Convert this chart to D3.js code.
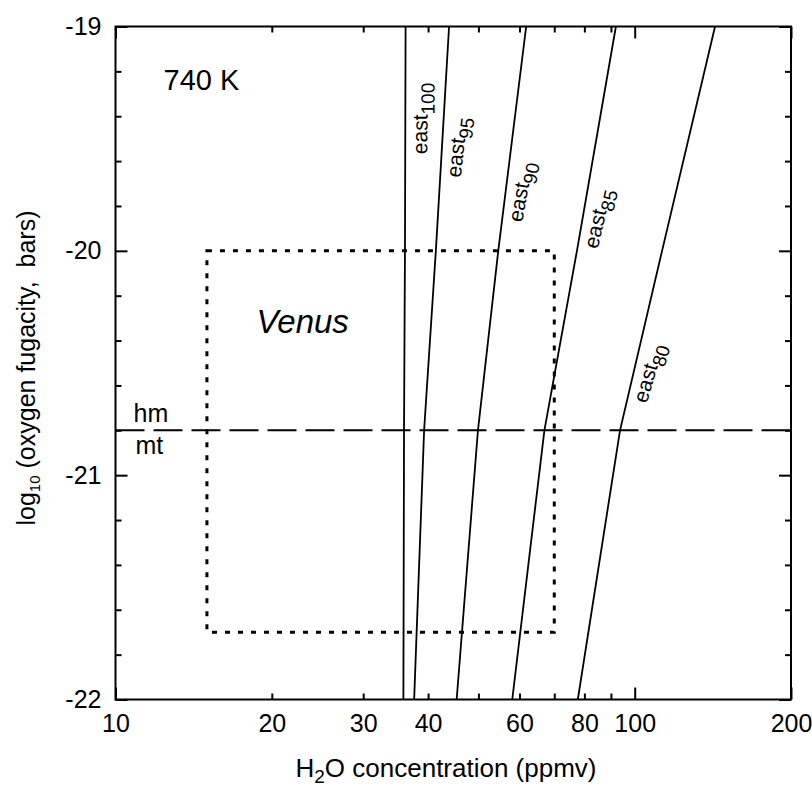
<!DOCTYPE html>
<meta charset="utf-8">
<script src="https://d3js.org/d3.v7.min.js"></script>
<style>
  body { margin: 0; background: #fff; }
  svg text { font-family: "Liberation Sans", Arial, sans-serif; fill: #000; }
</style>
<body>
<div id="chart"></div>
<script>

  // ----- data
  var fO2 = [-19, -20, -20.8, -22]          // log10 fO2 (bars) where each curve was read
  var east100 = [36.2, 36.1, 35.95, 35.85]  // H2O ppmv
  var east95 = [43.9, 41.4, 39.3, 37.6]
  var east90 = [61.8, 54.6, 49.9, 45.4]
  var east85 = [92.0, 77.4, 67.0, 58.1]
  var east80 = [142.8, 112.9, 93.7, 77.7]
  var curveNames = ["100", "95", "90", "85", "80"]
  var labelFO2 = [-19.41, -19.54, -19.74, -19.86, -20.55]

  var venusH2O = [15, 70]
  var venusFO2 = [-21.7, -20]
  var hmMt = -20.8

  var xLabels = [10, 20, 30, 40, 60, 80, 100, 200]
  var xMajor = [10, 100, 200]
  var xMinor = [20, 30, 40, 50, 60, 70, 80, 90]
  var yLabels = [-19, -20, -21, -22]
  var yMinor = [-19.2, -19.4, -19.6, -19.8, -20.2, -20.4, -20.6, -20.8,
                -21.2, -21.4, -21.6, -21.8]

  var margin = {top : 26.5, right : 21, bottom : 87.5, left : 115.5}
  var width = 812 - margin.left - margin.right
  var height = 787 - margin.top - margin.bottom

  var svg = d3.select("#chart")
              .append("svg")
              .attr("width", 812)
              .attr("height", 787)
  var g = svg.append("g")
             .attr("transform", "translate(" + margin.left + "," + margin.top + ")")

  var xScale = d3.scaleLog().domain([10, 200]).range([0, width])
  var yScale = d3.scaleLinear().domain([-22, -19]).range([height, 0])

  // ----- ticks (inward, on all four sides)
  function tickAxis(axis, vals, size) {
    return axis.tickValues(vals).tickSize(-size).tickFormat("")
  }
  var axes = [
    [d3.axisBottom(xScale), xMajor, 12, "translate(0," + height + ")"],
    [d3.axisBottom(xScale), xMinor, 6, "translate(0," + height + ")"],
    [d3.axisTop(xScale), xMajor, 12, null],
    [d3.axisTop(xScale), xMinor, 6, null],
    [d3.axisLeft(yScale), yLabels, 12, null],
    [d3.axisLeft(yScale), yMinor, 6, null],
    [d3.axisRight(yScale), yLabels, 12, "translate(" + width + ",0)"],
    [d3.axisRight(yScale), yMinor, 6, "translate(" + width + ",0)"]
  ]
  axes.forEach(function(a) {
    var ax = g.append("g").call(tickAxis(a[0], a[1], a[2]))
    if (a[3]) ax.attr("transform", a[3])
    ax.select(".domain").remove()
    ax.selectAll("line").attr("stroke", "#000").attr("stroke-width", 2)
  })

  // ----- tick labels
  var xl = g.append("g")
            .attr("transform", "translate(0," + height + ")")
            .call(d3.axisBottom(xScale).tickValues(xLabels).tickSize(0).tickPadding(15)
                    .tickFormat(d3.format("d")))
  xl.select(".domain").remove()
  xl.selectAll("text").style("font-size", "25px")
    .style("font-family", "'Liberation Sans', Arial, sans-serif")

  var yl = g.append("g")
            .call(d3.axisLeft(yScale).tickValues(yLabels).tickSize(0).tickPadding(14)
                    .tickFormat(function(d) { return "-" + Math.abs(d) }))
  yl.select(".domain").remove()
  yl.selectAll("text").style("font-size", "25px")
    .style("font-family", "'Liberation Sans', Arial, sans-serif")

  // ----- frame
  g.append("rect")
   .attr("width", width)
   .attr("height", height)
   .attr("fill", "none")
   .attr("stroke", "#000")
   .attr("stroke-width", 2)

  // ----- hm / mt buffer
  g.append("line")
   .attr("x1", 0).attr("x2", width)
   .attr("y1", yScale(hmMt)).attr("y2", yScale(hmMt))
   .attr("stroke", "#000")
   .attr("stroke-width", 2)
   .attr("stroke-dasharray", "29,9")
  g.append("text").attr("x", 18).attr("y", yScale(hmMt) - 8)
   .style("font-size", "25px").text("hm")
  g.append("text").attr("x", 20).attr("y", yScale(hmMt) + 24)
   .style("font-size", "25px").text("mt")

  // ----- Venus box
  g.append("rect")
   .attr("x", xScale(venusH2O[0]))
   .attr("y", yScale(venusFO2[1]))
   .attr("width", xScale(venusH2O[1]) - xScale(venusH2O[0]))
   .attr("height", yScale(venusFO2[0]) - yScale(venusFO2[1]))
   .attr("fill", "none")
   .attr("stroke", "#000")
   .attr("stroke-width", 3)
   .attr("stroke-dasharray", "5,8")
  g.append("text")
   .attr("x", 141).attr("y", 306)
   .style("font-size", "33px").style("font-style", "italic")
   .text("Venus")

  g.append("text")
   .attr("x", 48).attr("y", 63)
   .style("font-size", "29px")
   .text("740 K")

  // ----- curves
  var curves = [east100, east95, east90, east85, east80]
  var line = d3.line()
               .x(function(d) { return xScale(d[0]) })
               .y(function(d) { return yScale(d[1]) })

  curves.forEach(function(c, i) {
    var pts = c.map(function(v, j) { return [v, fO2[j]] })
    g.append("path")
     .attr("d", line(pts))
     .attr("fill", "none")
     .attr("stroke", "#000")
     .attr("stroke-width", 1.8)

    // label beside the curve, turned along it
    var ly = labelFO2[i]
    var k = 0
    while (k < fO2.length - 2 && fO2[k + 1] > ly) k++
    var t = (ly - fO2[k]) / (fO2[k + 1] - fO2[k])
    var lx = Math.exp(Math.log(c[k]) + t * (Math.log(c[k + 1]) - Math.log(c[k])))
    var dx = xScale(c[k]) - xScale(c[k + 1])
    var dy = yScale(fO2[k]) - yScale(fO2[k + 1])
    var ang = Math.atan2(dy, dx) * 180 / Math.PI
    if (i > 0) ang += 3
    var px = xScale(lx) + 20
    var py = yScale(ly)
    var lab = g.append("text")
               .attr("transform", "translate(" + px + "," + py + ") rotate(" + ang + ")")
               .attr("text-anchor", "middle")
               .attr("dy", "0.1em")
               .style("font-size", "21px")
    lab.append("tspan").text("east")
    lab.append("tspan").attr("dy", 7).style("font-size", "19px").text(curveNames[i])
  })

  // ----- axis titles
  var xt = svg.append("text")
              .attr("x", 446)
              .attr("y", 777)
              .attr("text-anchor", "middle")
              .style("font-size", "26px")
  xt.append("tspan").text("H")
  xt.append("tspan").attr("dy", 6).style("font-size", "19px").text("2")
  xt.append("tspan").attr("dy", -6).text("O concentration (ppmv)")

  var yt = svg.append("text")
              .attr("transform", "translate(35,368) rotate(-90)")
              .attr("text-anchor", "middle")
              .style("font-size", "25px")
  yt.append("tspan").text("log")
  yt.append("tspan").attr("dy", 5).style("font-size", "15px").text("10")
  yt.append("tspan").attr("dy", -5).text(" (oxygen fugacity,\u00a0 bars)")

</script>
</body>
